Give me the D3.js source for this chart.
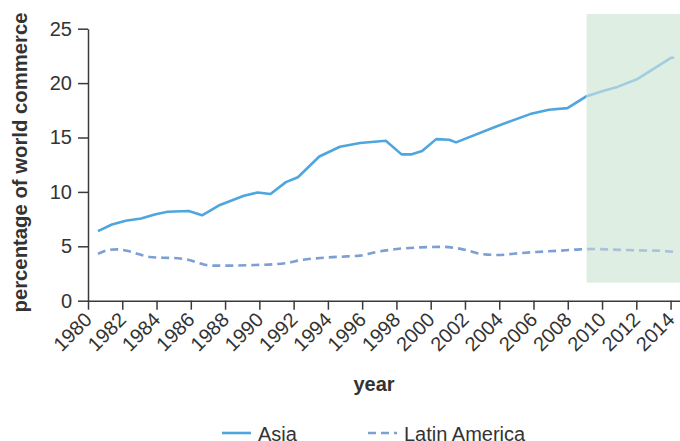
<!DOCTYPE html>
<html>
<head>
<meta charset="utf-8">
<script src="https://cdn.jsdelivr.net/npm/d3@7"></script>
<style>
  body { margin: 0; background: #fff; }
  svg text { font-family: "Liberation Sans", Arial, sans-serif; fill: #333; }
</style>
</head>
<body>
<div id="chart"></div>
<script>
// (years are fractional where the line has its corners)
const asia_years  = [1980.58, 1981.4, 1982.2, 1983.1, 1983.95, 1984.65, 1985.88, 1986.66, 1987.7, 1989.1, 1989.9, 1990.65, 1991.55, 1992.25, 1993.5, 1994.7, 1995.88, 1997.38, 1998.3, 1998.9, 1999.5, 2000.32, 2001.08, 2001.48, 2003.9, 2005.8, 2006.9, 2007.98, 2009.1, 2010.1, 2010.9, 2012.03, 2014.0, 2014.2];
const asia_values = [6.4, 7.0, 7.35, 7.55, 7.95, 8.18, 8.24, 7.85, 8.8, 9.65, 9.95, 9.8, 10.9, 11.35, 13.25, 14.15, 14.5, 14.7, 13.45, 13.45, 13.75, 14.85, 14.8, 14.55, 16.05, 17.15, 17.55, 17.7, 18.8, 19.3, 19.65, 20.35, 22.3, 22.35];

const latam_years  = [1980.58, 1981.17, 1981.65, 1982.34, 1982.92, 1983.6, 1984.38, 1985.25, 1985.84, 1986.81, 1987.4, 1988.17, 1989.73, 1990.9, 1991.68, 1992.38, 1993.74, 1995.1, 1995.88, 1996.86, 1998.02, 1999.38, 2000.74, 2001.33, 2002.3, 2002.88, 2003.95, 2004.83, 2006.19, 2007.36, 2008.72, 2009.5, 2010.67, 2012.03, 2013.2, 2014.17];
const latam_values = [4.3, 4.65, 4.72, 4.57, 4.29, 4.02, 3.95, 3.9, 3.77, 3.31, 3.22, 3.22, 3.28, 3.35, 3.49, 3.72, 3.95, 4.07, 4.14, 4.48, 4.75, 4.9, 4.95, 4.87, 4.57, 4.31, 4.2, 4.32, 4.48, 4.58, 4.72, 4.75, 4.69, 4.63, 4.6, 4.5];

const tick_years = d3.range(1980, 2015, 2);
const y_ticks = [0, 5, 10, 15, 20, 25];
const shade_years = [2009.1, 2015];
const shade_values = [1.65, 26.35];

const series_names = ['Asia', 'Latin America'];

const width = 680, height = 441;
const margin = {top: 28.7, right: 0, bottom: 140.3, left: 88};

const colors = {
  asia: '#4fa6de',
  asia_light: '#a2cde0',
  latam: '#7c9fd4',
  latam_light: '#a9c2da',
  shade: '#deeee3',
  axis: '#3a3a3a'
};

const svg = d3.select('#chart').append('svg')
  .attr('width', width).attr('height', height);

const x = d3.scaleLinear().domain([1980, 2014.55]).range([margin.left, width - margin.right]);
const y = d3.scaleLinear().domain([0, 25]).range([height - margin.bottom, margin.top]);

// projection band
svg.append('rect')
  .attr('x', x(shade_years[0]))
  .attr('y', y(shade_values[1]))
  .attr('width', x(shade_years[1]) - x(shade_years[0]))
  .attr('height', y(shade_values[0]) - y(shade_values[1]))
  .attr('fill', colors.shade);

// clip the lines into the part before and inside the band
const defs = svg.append('defs');
defs.append('clipPath').attr('id', 'clip-past').append('rect')
  .attr('x', 0).attr('y', 0).attr('width', x(shade_years[0])).attr('height', height);
defs.append('clipPath').attr('id', 'clip-future').append('rect')
  .attr('x', x(shade_years[0])).attr('y', 0).attr('width', width).attr('height', height);

const asia = asia_years.map((yr, i) => ({yr, v: asia_values[i]}));
const latam = latam_years.map((yr, i) => ({yr, v: latam_values[i]}));

const asia_line = d3.line().x(d => x(d.yr)).y(d => y(d.v));
const latam_line = d3.line().x(d => x(d.yr)).y(d => y(d.v)).curve(d3.curveMonotoneX);

[['clip-past', colors.latam], ['clip-future', colors.latam_light]].forEach(([clip, c]) => {
  svg.append('path').datum(latam)
    .attr('d', latam_line)
    .attr('clip-path', `url(#${clip})`)
    .attr('fill', 'none').attr('stroke', c)
    .attr('stroke-width', 2.6).attr('stroke-dasharray', '8,5');
});

[['clip-past', colors.asia], ['clip-future', colors.asia_light]].forEach(([clip, c]) => {
  svg.append('path').datum(asia)
    .attr('d', asia_line)
    .attr('clip-path', `url(#${clip})`)
    .attr('fill', 'none').attr('stroke', c)
    .attr('stroke-width', 2.6).attr('stroke-linejoin', 'round');
});

// axes
const x_axis = svg.append('g')
  .attr('transform', `translate(0,${y(0)})`)
  .call(d3.axisBottom(x).tickValues(tick_years).tickFormat(d3.format('d')).tickSize(9).tickSizeOuter(0));

x_axis.selectAll('text')
  .attr('text-anchor', 'middle')
  .attr('x', 0).attr('y', 0)
  .attr('dy', '0.35em')
  .attr('transform', 'translate(-16,31) rotate(-45)');

const y_axis = svg.append('g')
  .attr('transform', `translate(${x(1980)},0)`)
  .call(d3.axisLeft(y).tickValues(y_ticks).tickSize(10).tickSizeOuter(0).tickPadding(6));

svg.selectAll('.domain, .tick line').attr('stroke', colors.axis).attr('stroke-width', 1.5);
svg.selectAll('.tick text')
  .attr('font-size', 20).attr('fill', '#3a3a3a')
  .attr('font-family', '"Liberation Sans", Arial, sans-serif');

// axis titles
svg.append('text')
  .attr('transform', `translate(27,${(12 + 313) / 2}) rotate(-90)`)
  .attr('text-anchor', 'middle')
  .attr('font-size', 20).attr('font-weight', 'bold').attr('fill', '#222')
  .attr('textLength', 300).attr('lengthAdjust', 'spacingAndGlyphs')
  .text('percentage of world commerce');

svg.append('text')
  .attr('x', 374).attr('y', 391)
  .attr('text-anchor', 'middle')
  .attr('font-size', 20).attr('font-weight', 'bold').attr('fill', '#222')
  .text('year');

// legend
const legend = svg.append('g').attr('transform', 'translate(0,433)');
const legend_items = [
  {name: series_names[0], x: 222, color: colors.asia, dash: null},
  {name: series_names[1], x: 368, color: colors.latam, dash: '8,5'}
];
legend_items.forEach(d => {
  legend.append('line')
    .attr('x1', d.x).attr('x2', d.x + 29).attr('y1', 0).attr('y2', 0)
    .attr('stroke', d.color).attr('stroke-width', 2.6)
    .attr('stroke-dasharray', d.dash);
  legend.append('text')
    .attr('x', d.x + 36).attr('y', 8)
    .attr('font-size', 20).attr('fill', '#333')
    .text(d.name);
});
</script>
</body>
</html>
